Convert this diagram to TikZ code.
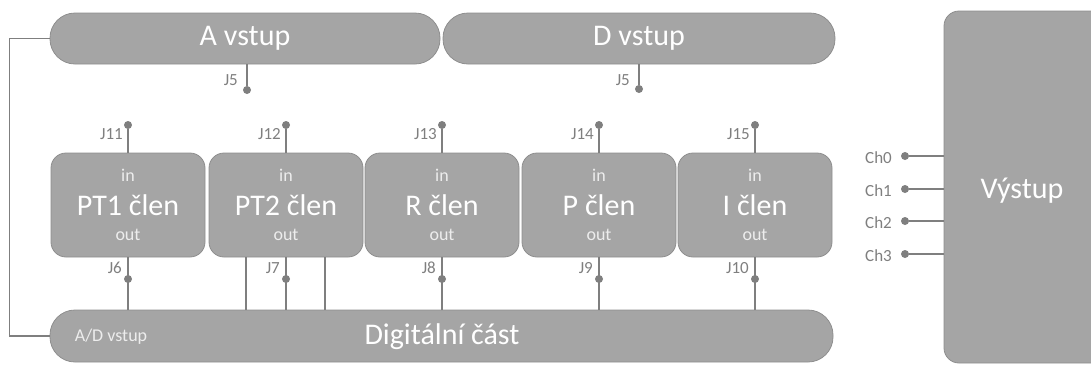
\documentclass[tikz,border=0pt]{standalone}
\usepackage{fontspec}
\setmainfont{Carlito}
\definecolor{boxfill}{HTML}{A5A5A5}
\definecolor{boxline}{HTML}{8E8E8E}
\definecolor{wire}{HTML}{7F7F7F}
\definecolor{lbl}{HTML}{7F7F7F}
\definecolor{soft}{HTML}{EDEDED}
\tikzset{
  pill/.style={draw=boxline, fill=boxfill, line width=0.8pt, rounded corners=25pt, minimum height=51pt, inner sep=0pt, text=white, font=\fontsize{30}{33}\selectfont},
  blk/.style={draw=boxline, fill=boxfill, line width=0.8pt, rounded corners=15pt, minimum width=154pt, minimum height=104pt, inner sep=0pt},
  dot/.style={circle, fill=wire, inner sep=0pt, minimum size=8pt},
  wireline/.style={draw=wire, line width=1.2pt},
  jl/.style={text=lbl, font=\fontsize{17}{19}\selectfont, inner sep=1pt},
  small/.style={text=soft, font=\fontsize{18}{20}\selectfont, inner sep=0pt},
  big/.style={text=white, font=\fontsize{30}{33}\selectfont, inner sep=0pt}
}
\begin{document}
\begin{tikzpicture}[x=1pt,y=-1pt]
\path[use as bounding box] (0,0) rectangle (1091,365);

% top pills
\node[pill, minimum width=390pt] (A) at (245,38.5) {A vstup};
\node[pill, minimum width=392pt] (D) at (639,38.5) {D vstup};

% bottom pill
\node[pill, minimum width=783pt, minimum height=52pt] (dig) at (441.5,336) {};
\node[big] (digl) at (442,337) {Digitální část};
\node[small] (adl) at (111,337) {A/D vstup};

% output block
\node[draw=boxline, fill=boxfill, line width=0.8pt, rounded corners=15pt, minimum width=170pt, minimum height=352pt, inner sep=0pt] (out) at (1029,187) {};
\node[big] (outl) at (1022,191) {Výstup};

% left feedback wire
\draw[wireline] (A.west) -- ++(-40,0) |- (dig.west);

% J5 connectors
\node[dot] (j5a) at (247,90) {};
\node[dot] (j5d) at (639,89) {};
\draw[wireline] (A.south -| j5a) -- (j5a);
\draw[wireline] (D.south -| j5d) -- (j5d);
\node[jl, anchor=east] (l5a) at (239,80) {J5};
\node[jl, anchor=east] (l5d) at (631,80) {J5};

% blocks
\foreach \n/\x/\name/\ti/\bo in {1/128/PT1 člen/J11/J6, 2/286/PT2 člen/J12/J7, 3/442/R člen/J13/J8, 4/599/P člen/J14/J9, 5/755/I člen/J15/J10}{
  \node[blk] (b\n) at (\x,205) {};
  \node[small] (bin\n) at (\x,175) {in};
  \node[big] (bn\n) at (\x,205) {\name};
  \node[small] (bout\n) at (\x,235) {out};
  \node[dot] (t\n) at (\x,125) {};
  \draw[wireline] (b\n.north) -- (t\n);
  \node[jl, anchor=east] (tl\n) at ([xshift=-4pt,yshift=-9pt]t\n.center) {\ti};
  \node[dot] (d\n) at (\x,279) {};
  \draw[wireline] (b\n.south) -- (dig.north -| b\n.south);
  \node[jl, anchor=east] (dl\n) at ([xshift=-5pt,yshift=11pt]d\n.center) {\bo};
}

% extra PT2 wires
\draw[wireline] ([xshift=-40pt]b2.south) -- ([xshift=-40pt]b2.south |- dig.north);
\draw[wireline] ([xshift=39pt]b2.south) -- ([xshift=39pt]b2.south |- dig.north);

% output channels
\foreach \i/\y in {0/156,1/189,2/221,3/254}{
  \node[dot] (c\i) at (905,\y) {};
  \draw[wireline] (c\i) -- (out.west |- c\i);
  \node[jl, anchor=east] (cl\i) at (893,\y+2) {Ch\i};
}
\end{tikzpicture}
\end{document}
